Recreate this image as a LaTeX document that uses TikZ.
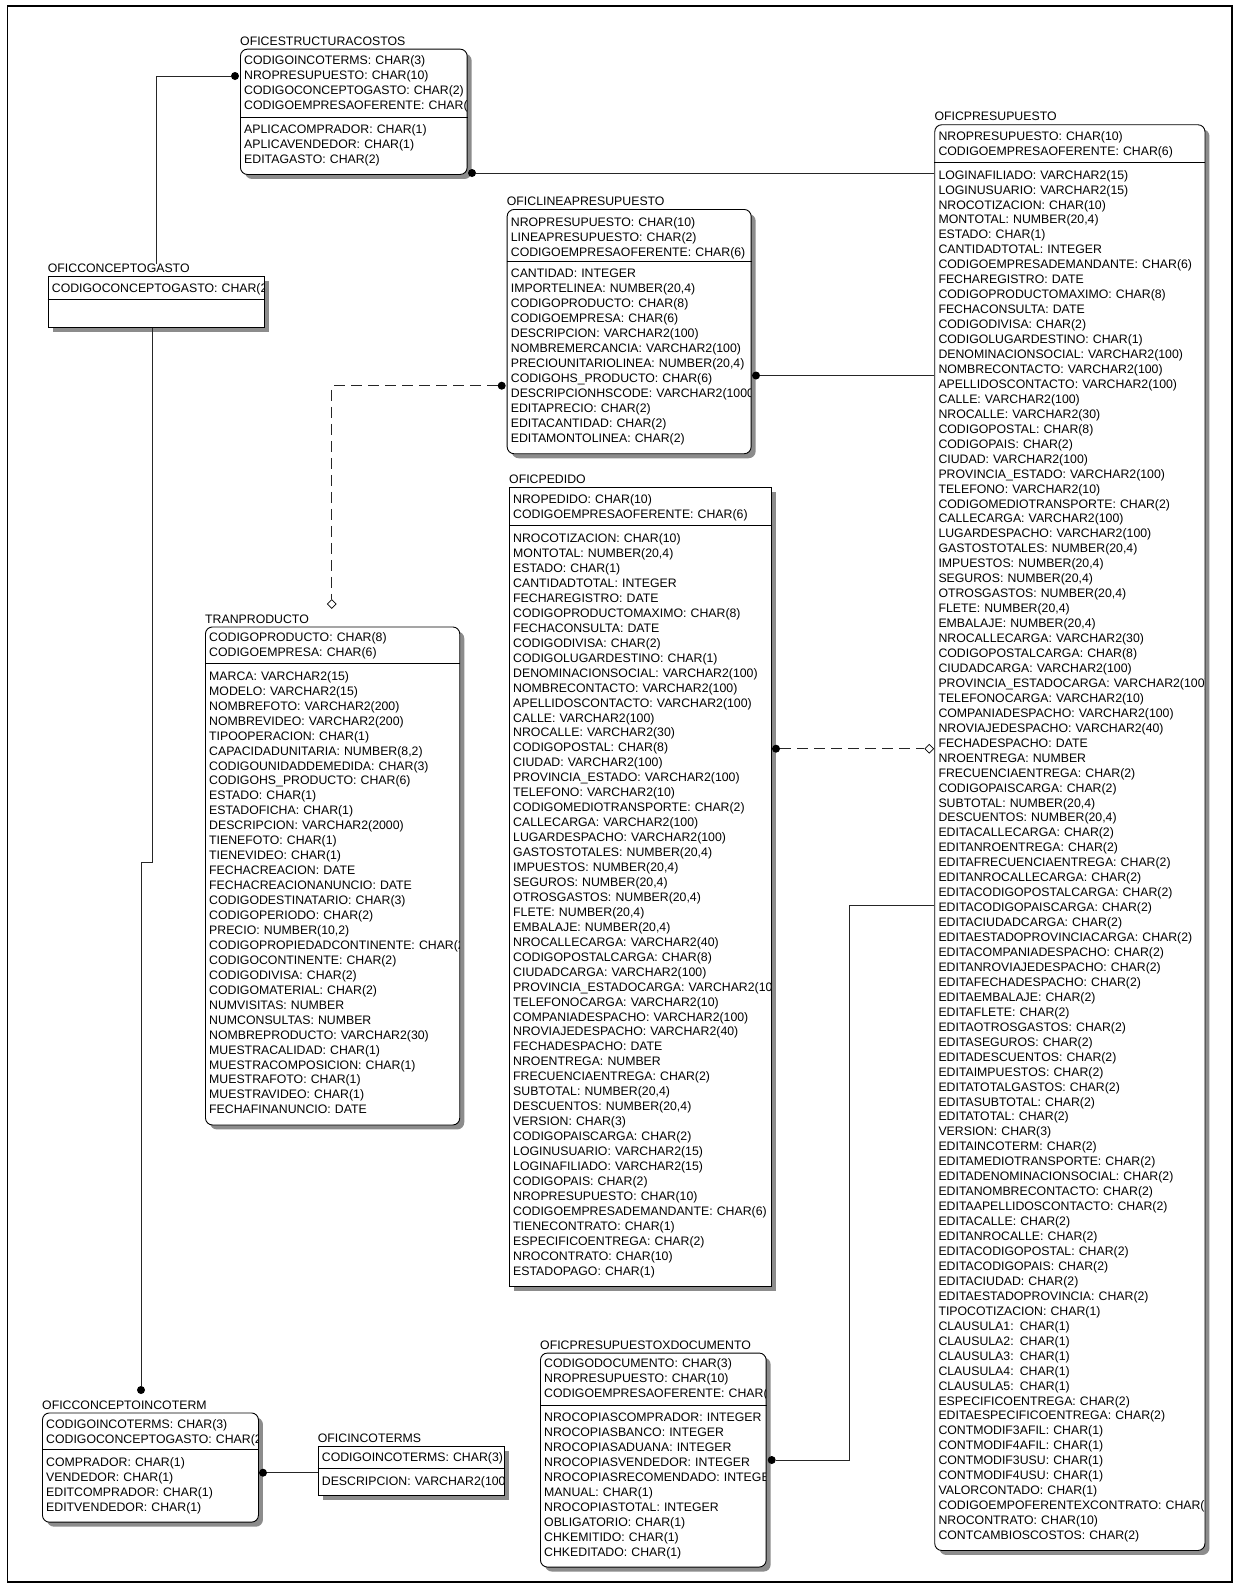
\documentclass[tikz,border=0pt]{standalone}
\usepackage{fontspec}
\newfontfamily\erfont{Liberation Sans}
\usetikzlibrary{shapes.geometric,shadows}
\newcommand{\attrfont}{\erfont\fontsize{12.3}{14.95}\selectfont}

\begin{document}
\begin{tikzpicture}[x=1pt,y=-1pt,
ent/.style={draw,fill=white,line width=0.9pt,anchor=north west,inner sep=0pt,
  drop shadow={shadow xshift=4.5pt,shadow yshift=-4.5pt,fill=black!45,opacity=1}},
dep/.style={ent,rounded corners=7pt},
ttl/.style={anchor=base west,inner sep=0pt,yshift=3.5pt,font=\attrfont},
attr/.style={anchor=north west,align=left,text width=330pt,inner sep=0pt,font=\attrfont},
sepline/.style={line width=0.9pt},
rel/.style={line width=0.8pt,draw=black!85},
nonid/.style={rel,dash pattern=on 11pt off 6pt},
dot/.style={circle,fill=black,inner sep=0pt,minimum size=8pt},
dmd/.style={diamond,draw=black,fill=white,line width=0.7pt,inner sep=0pt,minimum size=9pt},
frame/.style={line width=1.4pt}
]
\useasboundingbox (0,0) rectangle (1235,1588);
\draw[frame] (7.3,6) rectangle (1232,1582);

% entities
\node[dep,minimum width=226.7pt,minimum height=125.3pt] (estcost) at (240,48.7) {};
\node[ttl] (estcost-t) at (estcost.north west) {OFICESTRUCTURACOSTOS};
\draw[sepline] (estcost.west |- 0,117.3) -- (estcost.east |- 0,117.3);
\begin{scope}
\clip (estcost.north west) rectangle ([xshift=-1pt]estcost.south east);
\node[attr] (estcost-k) at (244,55.5) {CODIGOINCOTERMS: CHAR(3)\\NROPRESUPUESTO: CHAR(10)\\CODIGOCONCEPTOGASTO: CHAR(2)\\CODIGOEMPRESAOFERENTE: CHAR(6)};
\node[attr] (estcost-a) at (244,124.2) {APLICACOMPRADOR: CHAR(1)\\APLICAVENDEDOR: CHAR(1)\\EDITAGASTO: CHAR(2)};
\end{scope}

\node[ent,minimum width=216.6pt,minimum height=50.7pt] (cgasto) at (47.7,276) {};
\node[ttl] (cgasto-t) at (cgasto.north west) {OFICCONCEPTOGASTO};
\draw[sepline] (cgasto.west |- 0,299.3) -- (cgasto.east |- 0,299.3);
\begin{scope}
\clip (cgasto.north west) rectangle ([xshift=-1pt]cgasto.south east);
\node[attr] (cgasto-k) at (51.7,283.5) {CODIGOCONCEPTOGASTO: CHAR(2)};
\end{scope}

\node[dep,minimum width=244pt,minimum height=244.3pt] (linea) at (506.7,209) {};
\node[ttl] (linea-t) at (linea.north west) {OFICLINEAPRESUPUESTO};
\draw[sepline] (linea.west |- 0,261.3) -- (linea.east |- 0,261.3);
\begin{scope}
\clip (linea.north west) rectangle ([xshift=-1pt]linea.south east);
\node[attr] (linea-k) at (510.7,217.2) {NROPRESUPUESTO: CHAR(10)\\LINEAPRESUPUESTO: CHAR(2)\\CODIGOEMPRESAOFERENTE: CHAR(6)};
\node[attr] (linea-a) at (510.7,268.8) {CANTIDAD: INTEGER\\IMPORTELINEA: NUMBER(20,4)\\CODIGOPRODUCTO: CHAR(8)\\CODIGOEMPRESA: CHAR(6)\\DESCRIPCION: VARCHAR2(100)\\NOMBREMERCANCIA: VARCHAR2(100)\\PRECIOUNITARIOLINEA: NUMBER(20,4)\\CODIGOHS\_PRODUCTO: CHAR(6)\\DESCRIPCIONHSCODE: VARCHAR2(1000)\\EDITAPRECIO: CHAR(2)\\EDITACANTIDAD: CHAR(2)\\EDITAMONTOLINEA: CHAR(2)};
\end{scope}

\node[dep,minimum width=270.2pt,minimum height=1425.7pt] (presup) at (934.3,124.3) {};
\node[ttl] (presup-t) at (presup.north west) {OFICPRESUPUESTO};
\draw[sepline] (presup.west |- 0,162.7) -- (presup.east |- 0,162.7);
\begin{scope}
\clip (presup.north west) rectangle ([xshift=-1pt]presup.south east);
\node[attr] (presup-k) at (938.3,131.2) {NROPRESUPUESTO: CHAR(10)\\CODIGOEMPRESAOFERENTE: CHAR(6)};
\node[attr] (presup-a) at (938.3,170) {LOGINAFILIADO: VARCHAR2(15)\\LOGINUSUARIO: VARCHAR2(15)\\NROCOTIZACION: CHAR(10)\\MONTOTAL: NUMBER(20,4)\\ESTADO: CHAR(1)\\CANTIDADTOTAL: INTEGER\\CODIGOEMPRESADEMANDANTE: CHAR(6)\\FECHAREGISTRO: DATE\\CODIGOPRODUCTOMAXIMO: CHAR(8)\\FECHACONSULTA: DATE\\CODIGODIVISA: CHAR(2)\\CODIGOLUGARDESTINO: CHAR(1)\\DENOMINACIONSOCIAL: VARCHAR2(100)\\NOMBRECONTACTO: VARCHAR2(100)\\APELLIDOSCONTACTO: VARCHAR2(100)\\CALLE: VARCHAR2(100)\\NROCALLE: VARCHAR2(30)\\CODIGOPOSTAL: CHAR(8)\\CODIGOPAIS: CHAR(2)\\CIUDAD: VARCHAR2(100)\\PROVINCIA\_ESTADO: VARCHAR2(100)\\TELEFONO: VARCHAR2(10)\\CODIGOMEDIOTRANSPORTE: CHAR(2)\\CALLECARGA: VARCHAR2(100)\\LUGARDESPACHO: VARCHAR2(100)\\GASTOSTOTALES: NUMBER(20,4)\\IMPUESTOS: NUMBER(20,4)\\SEGUROS: NUMBER(20,4)\\OTROSGASTOS: NUMBER(20,4)\\FLETE: NUMBER(20,4)\\EMBALAJE: NUMBER(20,4)\\NROCALLECARGA: VARCHAR2(30)\\CODIGOPOSTALCARGA: CHAR(8)\\CIUDADCARGA: VARCHAR2(100)\\PROVINCIA\_ESTADOCARGA: VARCHAR2(100)\\TELEFONOCARGA: VARCHAR2(10)\\COMPANIADESPACHO: VARCHAR2(100)\\NROVIAJEDESPACHO: VARCHAR2(40)\\FECHADESPACHO: DATE\\NROENTREGA: NUMBER\\FRECUENCIAENTREGA: CHAR(2)\\CODIGOPAISCARGA: CHAR(2)\\SUBTOTAL: NUMBER(20,4)\\DESCUENTOS: NUMBER(20,4)\\EDITACALLECARGA: CHAR(2)\\EDITANROENTREGA: CHAR(2)\\EDITAFRECUENCIAENTREGA: CHAR(2)\\EDITANROCALLECARGA: CHAR(2)\\EDITACODIGOPOSTALCARGA: CHAR(2)\\EDITACODIGOPAISCARGA: CHAR(2)\\EDITACIUDADCARGA: CHAR(2)\\EDITAESTADOPROVINCIACARGA: CHAR(2)\\EDITACOMPANIADESPACHO: CHAR(2)\\EDITANROVIAJEDESPACHO: CHAR(2)\\EDITAFECHADESPACHO: CHAR(2)\\EDITAEMBALAJE: CHAR(2)\\EDITAFLETE: CHAR(2)\\EDITAOTROSGASTOS: CHAR(2)\\EDITASEGUROS: CHAR(2)\\EDITADESCUENTOS: CHAR(2)\\EDITAIMPUESTOS: CHAR(2)\\EDITATOTALGASTOS: CHAR(2)\\EDITASUBTOTAL: CHAR(2)\\EDITATOTAL: CHAR(2)\\VERSION: CHAR(3)\\EDITAINCOTERM: CHAR(2)\\EDITAMEDIOTRANSPORTE: CHAR(2)\\EDITADENOMINACIONSOCIAL: CHAR(2)\\EDITANOMBRECONTACTO: CHAR(2)\\EDITAAPELLIDOSCONTACTO: CHAR(2)\\EDITACALLE: CHAR(2)\\EDITANROCALLE: CHAR(2)\\EDITACODIGOPOSTAL: CHAR(2)\\EDITACODIGOPAIS: CHAR(2)\\EDITACIUDAD: CHAR(2)\\EDITAESTADOPROVINCIA: CHAR(2)\\TIPOCOTIZACION: CHAR(1)\\CLAUSULA1: CHAR(1)\\CLAUSULA2: CHAR(1)\\CLAUSULA3: CHAR(1)\\CLAUSULA4: CHAR(1)\\CLAUSULA5: CHAR(1)\\ESPECIFICOENTREGA: CHAR(2)\\EDITAESPECIFICOENTREGA: CHAR(2)\\CONTMODIF3AFIL: CHAR(1)\\CONTMODIF4AFIL: CHAR(1)\\CONTMODIF3USU: CHAR(1)\\CONTMODIF4USU: CHAR(1)\\VALORCONTADO: CHAR(1)\\CODIGOEMPOFERENTEXCONTRATO: CHAR(6)\\NROCONTRATO: CHAR(10)\\CONTCAMBIOSCOSTOS: CHAR(2)};
\end{scope}

\node[dep,minimum width=254.3pt,minimum height=498pt] (tranp) at (205,626.5) {};
\node[ttl] (tranp-t) at (tranp.north west) {TRANPRODUCTO};
\draw[sepline] (tranp.west |- 0,663) -- (tranp.east |- 0,663);
\begin{scope}
\clip (tranp.north west) rectangle ([xshift=-1pt]tranp.south east);
\node[attr] (tranp-k) at (209,632.7) {CODIGOPRODUCTO: CHAR(8)\\CODIGOEMPRESA: CHAR(6)};
\node[attr] (tranp-a) at (209,671.2) {MARCA: VARCHAR2(15)\\MODELO: VARCHAR2(15)\\NOMBREFOTO: VARCHAR2(200)\\NOMBREVIDEO: VARCHAR2(200)\\TIPOOPERACION: CHAR(1)\\CAPACIDADUNITARIA: NUMBER(8,2)\\CODIGOUNIDADDEMEDIDA: CHAR(3)\\CODIGOHS\_PRODUCTO: CHAR(6)\\ESTADO: CHAR(1)\\ESTADOFICHA: CHAR(1)\\DESCRIPCION: VARCHAR2(2000)\\TIENEFOTO: CHAR(1)\\TIENEVIDEO: CHAR(1)\\FECHACREACION: DATE\\FECHACREACIONANUNCIO: DATE\\CODIGODESTINATARIO: CHAR(3)\\CODIGOPERIODO: CHAR(2)\\PRECIO: NUMBER(10,2)\\CODIGOPROPIEDADCONTINENTE: CHAR(2)\\CODIGOCONTINENTE: CHAR(2)\\CODIGODIVISA: CHAR(2)\\CODIGOMATERIAL: CHAR(2)\\NUMVISITAS: NUMBER\\NUMCONSULTAS: NUMBER\\NOMBREPRODUCTO: VARCHAR2(30)\\MUESTRACALIDAD: CHAR(1)\\MUESTRACOMPOSICION: CHAR(1)\\MUESTRAFOTO: CHAR(1)\\MUESTRAVIDEO: CHAR(1)\\FECHAFINANUNCIO: DATE};
\end{scope}

\node[ent,minimum width=262pt,minimum height=799pt] (pedido) at (509,486.7) {};
\node[ttl] (pedido-t) at (pedido.north west) {OFICPEDIDO};
\draw[sepline] (pedido.west |- 0,525) -- (pedido.east |- 0,525);
\begin{scope}
\clip (pedido.north west) rectangle ([xshift=-1pt]pedido.south east);
\node[attr] (pedido-k) at (513,494.5) {NROPEDIDO: CHAR(10)\\CODIGOEMPRESAOFERENTE: CHAR(6)};
\node[attr] (pedido-a) at (513,533.5) {NROCOTIZACION: CHAR(10)\\MONTOTAL: NUMBER(20,4)\\ESTADO: CHAR(1)\\CANTIDADTOTAL: INTEGER\\FECHAREGISTRO: DATE\\CODIGOPRODUCTOMAXIMO: CHAR(8)\\FECHACONSULTA: DATE\\CODIGODIVISA: CHAR(2)\\CODIGOLUGARDESTINO: CHAR(1)\\DENOMINACIONSOCIAL: VARCHAR2(100)\\NOMBRECONTACTO: VARCHAR2(100)\\APELLIDOSCONTACTO: VARCHAR2(100)\\CALLE: VARCHAR2(100)\\NROCALLE: VARCHAR2(30)\\CODIGOPOSTAL: CHAR(8)\\CIUDAD: VARCHAR2(100)\\PROVINCIA\_ESTADO: VARCHAR2(100)\\TELEFONO: VARCHAR2(10)\\CODIGOMEDIOTRANSPORTE: CHAR(2)\\CALLECARGA: VARCHAR2(100)\\LUGARDESPACHO: VARCHAR2(100)\\GASTOSTOTALES: NUMBER(20,4)\\IMPUESTOS: NUMBER(20,4)\\SEGUROS: NUMBER(20,4)\\OTROSGASTOS: NUMBER(20,4)\\FLETE: NUMBER(20,4)\\EMBALAJE: NUMBER(20,4)\\NROCALLECARGA: VARCHAR2(40)\\CODIGOPOSTALCARGA: CHAR(8)\\CIUDADCARGA: VARCHAR2(100)\\PROVINCIA\_ESTADOCARGA: VARCHAR2(100)\\TELEFONOCARGA: VARCHAR2(10)\\COMPANIADESPACHO: VARCHAR2(100)\\NROVIAJEDESPACHO: VARCHAR2(40)\\FECHADESPACHO: DATE\\NROENTREGA: NUMBER\\FRECUENCIAENTREGA: CHAR(2)\\SUBTOTAL: NUMBER(20,4)\\DESCUENTOS: NUMBER(20,4)\\VERSION: CHAR(3)\\CODIGOPAISCARGA: CHAR(2)\\LOGINUSUARIO: VARCHAR2(15)\\LOGINAFILIADO: VARCHAR2(15)\\CODIGOPAIS: CHAR(2)\\NROPRESUPUESTO: CHAR(10)\\CODIGOEMPRESADEMANDANTE: CHAR(6)\\TIENECONTRATO: CHAR(1)\\ESPECIFICOENTREGA: CHAR(2)\\NROCONTRATO: CHAR(10)\\ESTADOPAGO: CHAR(1)};
\end{scope}

\node[dep,minimum width=216pt,minimum height=109.2pt] (cinco) at (42,1412.5) {};
\node[ttl] (cinco-t) at (cinco.north west) {OFICCONCEPTOINCOTERM};
\draw[sepline] (cinco.west |- 0,1449.5) -- (cinco.east |- 0,1449.5);
\begin{scope}
\clip (cinco.north west) rectangle ([xshift=-1pt]cinco.south east);
\node[attr] (cinco-k) at (46,1419) {CODIGOINCOTERMS: CHAR(3)\\CODIGOCONCEPTOGASTO: CHAR(2)};
\node[attr] (cinco-a) at (46,1457.5) {COMPRADOR: CHAR(1)\\VENDEDOR: CHAR(1)\\EDITCOMPRADOR: CHAR(1)\\EDITVENDEDOR: CHAR(1)};
\end{scope}

\node[ent,minimum width=186.3pt,minimum height=49.5pt] (incot) at (317.7,1445.7) {};
\node[ttl] (incot-t) at (incot.north west) {OFICINCOTERMS};
\draw[sepline] (incot.west |- 0,1468.3) -- (incot.east |- 0,1468.3);
\begin{scope}
\clip (incot.north west) rectangle ([xshift=-1pt]incot.south east);
\node[attr] (incot-k) at (321.7,1452.5) {CODIGOINCOTERMS: CHAR(3)};
\node[attr] (incot-a) at (321.7,1476.5) {DESCRIPCION: VARCHAR2(100)};
\end{scope}

\node[dep,minimum width=225.7pt,minimum height=214pt] (xdoc) at (540,1352.6) {};
\node[ttl] (xdoc-t) at (xdoc.north west) {OFICPRESUPUESTOXDOCUMENTO};
\draw[sepline] (xdoc.west |- 0,1405.3) -- (xdoc.east |- 0,1405.3);
\begin{scope}
\clip (xdoc.north west) rectangle ([xshift=-1pt]xdoc.south east);
\node[attr] (xdoc-k) at (544,1358.8) {CODIGODOCUMENTO: CHAR(3)\\NROPRESUPUESTO: CHAR(10)\\CODIGOEMPRESAOFERENTE: CHAR(6)};
\node[attr] (xdoc-a) at (544,1412.8) {NROCOPIASCOMPRADOR: INTEGER\\NROCOPIASBANCO: INTEGER\\NROCOPIASADUANA: INTEGER\\NROCOPIASVENDEDOR: INTEGER\\NROCOPIASRECOMENDADO: INTEGER\\MANUAL: CHAR(1)\\NROCOPIASTOTAL: INTEGER\\OBLIGATORIO: CHAR(1)\\CHKEMITIDO: CHAR(1)\\CHKEDITADO: CHAR(1)};
\end{scope}

% relationship ends
\node[dot] (dEstL) at (235,76) {};
\node[dot] (dEstR) at (472,173) {};
\node[dot] (dLineaL) at (501.7,385.7) {};
\node[dot] (dLineaR) at (756,375.5) {};
\node[dot] (dPedido) at (776,748.7) {};
\node[dot] (dCincoT) at (141,1390) {};
\node[dot] (dCincoR) at (263,1472.7) {};
\node[dot] (dXdoc) at (771.7,1460) {};
\node[dmd] (dmTran) at (331.7,604) {};
\node[dmd] (dmPres) at (929.3,748.7) {};

% relationships
\draw[rel] (dEstL) -| (cgasto-t.north -| cgasto.north);
\draw[rel] (dEstR) -- (dEstR -| presup.west);
\draw[rel] ([xshift=-4.3pt]cgasto.south) -- ++(0,534.6) -| (dCincoT);
\draw[nonid] (dLineaL) -| (dmTran);
\draw[rel] (dLineaR) -- (dLineaR -| presup.west);
\draw[nonid] (dPedido) -- (dmPres);
\draw[rel] (dCincoR) -- (dCincoR -| incot.west);
\draw[rel] (dXdoc) -- ++(77.3,0) |- (presup.west |- 0,905.7);
\end{tikzpicture}
\end{document}
